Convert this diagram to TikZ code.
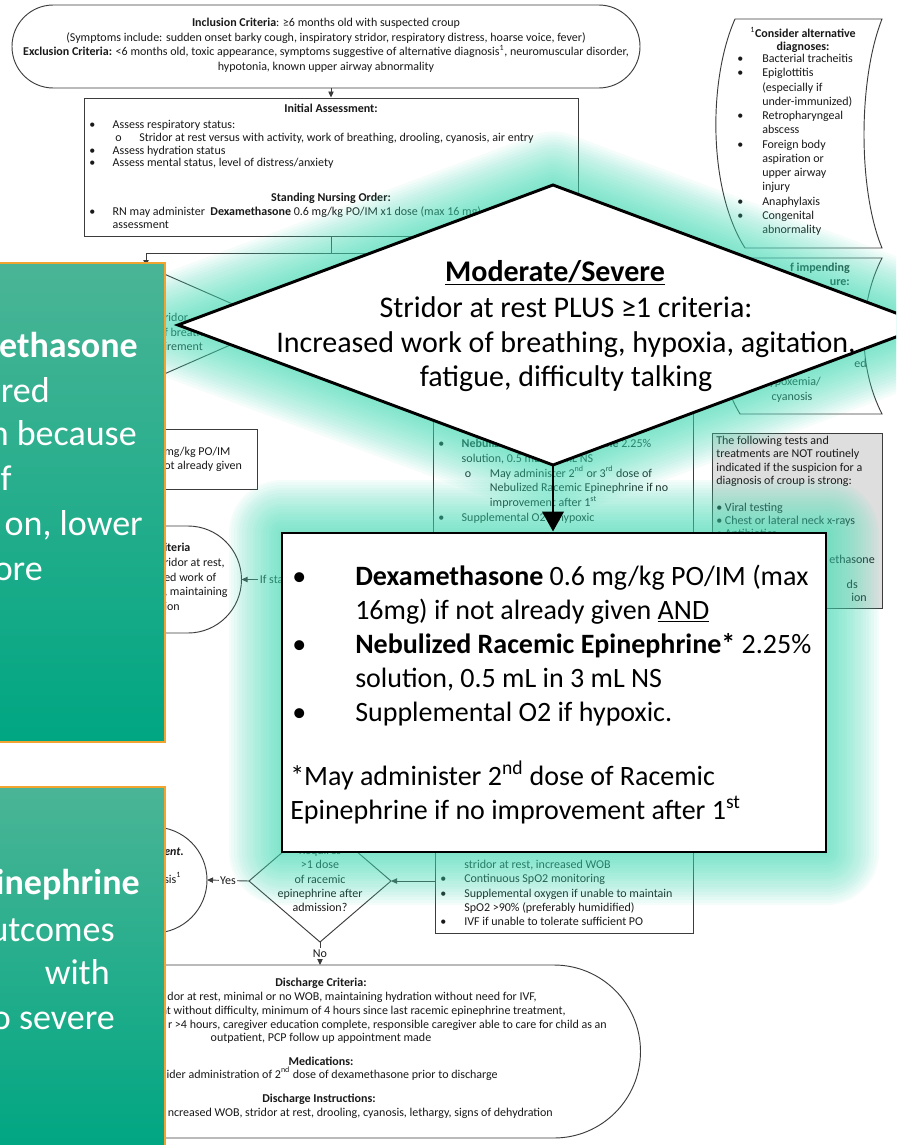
\documentclass[tikz,border=0pt]{standalone}
\usepackage{fontspec}
\setmainfont{Carlito}
\usetikzlibrary{arrows.meta,fit}

\definecolor{glowc}{RGB}{63,223,183}
\definecolor{tealtop}{RGB}{74,181,150}
\definecolor{tealbot}{RGB}{0,166,130}
\definecolor{edgeorange}{RGB}{242,164,48}
\definecolor{notegray}{RGB}{222,222,222}
\definecolor{inkgray}{RGB}{60,60,60}

\newcommand{\itemdot}[1][17.6pt]{\makebox[#1][l]{\textbullet}}

\tikzset{
  flowline/.style={draw=inkgray, line width=0.7pt},
  flowarrow/.style={flowline, -{Triangle[length=4.5pt,width=4pt]}},
  flowbox/.style={draw=inkgray, line width=0.7pt, fill=white, inner sep=0pt},
  smalltxt/.style={font=\fontsize{9}{10.7}\selectfont, inner sep=0pt, text=black!90},
  lbltxt/.style={smalltxt, fill=white, inner sep=1pt},
  dmdtxt/.style={font=\fontsize{22.5}{26}\selectfont, inner sep=0pt, anchor=base},
  boxtxt/.style={font=\fontsize{21}{25.5}\selectfont, inner sep=0pt, anchor=base west},
  tealbox/.style={top color=tealtop, bottom color=tealbot, draw=edgeorange, line width=1pt, inner sep=0pt},
  tealtxt/.style={font=\fontsize{27}{33}\selectfont, text=white, inner sep=0pt, anchor=base east},
  bigshape/.style={fill=white, draw=black, line width=2.2pt},
}

\begin{document}
\begin{tikzpicture}[x=0.75pt,y=0.75pt,yscale=-1,xscale=1]
\useasboundingbox (0,0) rectangle (896,1145);
\clip (0,0) rectangle (896,1145);
\fill[white] (0,0) rectangle (896,1145);

%Terminator: inclusion criteria
\coordinate (incl-s) at (331,88);
\draw[flowline, fill=white, rounded corners=31pt] (12,5) rectangle (640,88);
% Text Node
\node[smalltxt, align=center, anchor=north, font=\fontsize{9}{10.9}\selectfont] (incl) at (326,18) {\textbf{Inclusion Criteria}: ≥6 months old with suspected croup\\
(Symptoms include: sudden onset barky cough, inspiratory stridor, respiratory distress, hoarse voice, fever)\\
\textbf{Exclusion Criteria:} <6 months old, toxic appearance, symptoms suggestive of alternative diagnosis\textsuperscript{1}, neuromuscular disorder,\\
hypotonia, known upper airway abnormality};

%Rectangle: initial assessment
\node[flowbox, fit={(84,98) (578,236)}] (init) {};
\draw[flowarrow] (incl-s) -- (init.north);
% Text Node
\node[smalltxt, anchor=base] (init-hd) at (331,113) {\textbf{Initial Assessment:}};
\node[smalltxt, align=left, anchor=north west, font=\fontsize{9}{9.6}\selectfont] (init-list) at (89,120) {\itemdot Assess respiratory status:\\
\hspace*{19.5pt}\makebox[18pt][l]{o}Stridor at rest versus with activity, work of breathing, drooling, cyanosis, air entry\\
\itemdot Assess hydration status\\
\itemdot Assess mental status, level of distress/anxiety};
\node[smalltxt, anchor=base] (order-hd) at (331,201) {\textbf{Standing Nursing Order:}};
\node[smalltxt, align=left, anchor=north west, font=\fontsize{9}{9.75}\selectfont] (order) at (89,206) {\itemdot RN may administer \ \textbf{Dexamethasone} 0.6 mg/kg PO/IM x1 dose (max 16 mg)\\
\hspace*{17.6pt}assessment};

%Straight Lines: split to severity
\coordinate (split) at (331,253);
\coordinate (mild-n) at (146,266);
\coordinate (mild-e) at (278,324);
\coordinate (mild-s) at (146,382);
\coordinate (mild-w) at (14,324);
\node[flowbox, fit={(433,398) (693,542)}] (sevtx) {};
\draw[flowline] (init.south) -- (split);
\draw[flowarrow] (split) -| (mild-n);
\draw[flowarrow] (split) -| (sevtx.north);

%Shape: Diamond mild
\draw[flowline, fill=white] (mild-n) -- (mild-e) -- (mild-s) -- (mild-w) -- cycle;
\node[smalltxt, align=left, anchor=north west, font=\fontsize{9}{10.9}\selectfont] (mild-txt) at (164,313) {ridor\\f breathing\\irement};

%Rectangle: mild dexamethasone
\node[flowbox, fit={(30,429) (257,489)}] (mdexa) {};
\node[smalltxt, align=left, anchor=north west, font=\fontsize{9}{10.5}\selectfont] (mdexa-txt) at (164,447) {mg/kg PO/IM\\ot already given};

%Terminator: mild discharge
\coordinate (mdis-e) at (241.5,579.5);
\draw[flowline, fill=white] (20,526) -- (188,526) arc(-90:90:53.5) -- (20,633);
\node[smalltxt, align=left, anchor=north west, font=\fontsize{9}{11}\selectfont] (mdis-txt) at (164,543) {\textbf{iteria}\\ridor at rest,\\ed work of\\, maintaining\\ion};
\coordinate (ifst) at (300,579.5);
\draw[flowarrow] (ifst) -- (mdis-e);
\node[lbltxt, anchor=east] (ifst-lbl) at (285,579.5) {If sta};

%Moderate/severe treatment text
\node[smalltxt, align=left, anchor=north west, font=\fontsize{9}{11}\selectfont] (sevtx-txt) at (438,439) {\itemdot \textbf{Nebulized Racemic Epinephrine} 2.25\%\\
\hspace*{17.6pt}solution, 0.5 mL in 3 mL NS\\
\hspace*{20pt}\makebox[18.75pt][l]{o}May administer 2\textsuperscript{nd} or 3\textsuperscript{rd} dose of\\
\hspace*{38.75pt}Nebulized Racemic Epinephrine if no\\
\hspace*{38.75pt}improvement after 1\textsuperscript{st}\\
\itemdot Supplemental O2 if hypoxic};

%Shape: Wave alternative diagnoses
\draw[flowline, fill=white] (735,19) -- (882,19) .. controls (858,80) and (858,190) .. (882,248) -- (745,248) .. controls (708,190) and (708,80) .. (735,19) -- cycle;
\node[smalltxt, align=center, anchor=north, font=\fontsize{9}{9.75}\selectfont] (alt-hd) at (803,27) {\textsuperscript{1}\textbf{Consider alternative}\\\textbf{diagnoses:}};
\node[smalltxt, align=left, anchor=north west] (alt-list) at (737,54) {\itemdot[18.75pt]Bacterial tracheitis\\
\itemdot[18.75pt]Epiglottitis\\
\hspace*{18.75pt}(especially if\\
\hspace*{18.75pt}under-immunized)\\
\itemdot[18.75pt]Retropharyngeal\\
\hspace*{18.75pt}abscess\\
\itemdot[18.75pt]Foreign body\\
\hspace*{18.75pt}aspiration or\\
\hspace*{18.75pt}upper airway\\
\hspace*{18.75pt}injury\\
\itemdot[18.75pt]Anaphylaxis\\
\itemdot[18.75pt]Congenital\\
\hspace*{18.75pt}abnormality};

%Shape: Wave impending failure
\draw[flowline, fill=white] (737,258) -- (882,258) .. controls (858,305) and (858,367) .. (882,414) -- (740,414) .. controls (712,367) and (712,305) .. (737,258) -- cycle;
\node[smalltxt, anchor=base east] (imp-a) at (850,271) {\textbf{f impending}};
\node[smalltxt, anchor=base east] (imp-b) at (850,285) {\textbf{ure:}};
\node[smalltxt, anchor=base east] (imp-c) at (867,367) {ed};
\node[smalltxt, align=center, anchor=north, font=\fontsize{9}{10.9}\selectfont] (imp-d) at (792,377) {hypoxemia/\\cyanosis};

%Rectangle: not indicated
\node[flowbox, fill=notegray, fit={(712,433) (882,608)}] (notes) {};
\node[smalltxt, align=left, anchor=north west, font=\fontsize{9}{10}\selectfont] (notes-txt) at (716,436) {The following tests and\\
treatments are NOT routinely\\
indicated if the suspicion for a\\
diagnosis of croup is strong:\\[10pt]
\textbullet\ Viral testing\\
\textbullet\ Chest or lateral neck x-rays\\
\textbullet\ Antibiotics};
\node[smalltxt, anchor=base east] (notes-a) at (875,563) {ethasone};
\node[smalltxt, anchor=base east] (notes-b) at (858,588) {ds};
\node[smalltxt, anchor=base east] (notes-c) at (867,601) {ion};

%Terminator: alternative diagnosis
\coordinate (altd-e) at (207,880);
\draw[flowline, fill=white] (20,827) -- (154,827) arc(-90:90:53) -- (20,933);
\node[smalltxt, anchor=base west] (altd-a) at (164,855) {\textbf{\textit{ent.}}};
\node[smalltxt, anchor=base west] (altd-b) at (164,883) {sis\textsuperscript{1}};

%Shape: Diamond requires
\coordinate (req-n) at (320,820);
\coordinate (req-e) at (391,881);
\coordinate (req-s) at (320,942);
\coordinate (req-w) at (249,881);
\draw[flowline, fill=white] (req-n) -- (req-e) -- (req-s) -- (req-w) -- cycle;
\node[smalltxt, align=center, anchor=north] (req-txt) at (320,846) {Requires\\>1 dose\\of racemic\\epinephrine after\\admission?};
\draw[flowarrow] (req-w) -- (altd-e) node[lbltxt, midway] (yes-lbl) {Yes};

%Rectangle: inpatient care
\node[flowbox, fit={(435,835) (693,933)}] (inpat) {};
\node[smalltxt, align=left, anchor=north west] (inpat-txt) at (440,860) {\hspace*{18pt}stridor at rest, increased WOB\\
\itemdot[18pt]Continuous SpO2 monitoring\\
\itemdot[18pt]Supplemental oxygen if unable to maintain\\
\hspace*{18pt}SpO2 >90\% (preferably humidified)\\
\itemdot[18pt]IVF if unable to tolerate sufficient PO};
\draw[flowarrow] (inpat.west |- req-e) -- (req-e);

%Terminator: discharge
\coordinate (disch-n) at (320,965);
\draw[flowline, fill=white] (20,965) -- (554,965) arc(-90:90:86.5) -- (20,1138);
\draw[flowarrow] (req-s) -- (disch-n) node[lbltxt, midway] (no-lbl) {No};
\node[smalltxt, anchor=base] (dc-hd) at (321,986) {\textbf{Discharge Criteria:}};
\node[smalltxt, anchor=base east] (dc-a) at (537,1000) {dor at rest, minimal or no WOB, maintaining hydration without need for IVF,};
\node[smalltxt, anchor=base east] (dc-b) at (566,1014) {at without difficulty, minimum of 4 hours since last racemic epinephrine treatment,};
\node[smalltxt, anchor=base east] (dc-c) at (607,1028) {r >4 hours, caregiver education complete, responsible caregiver able to care for child as an};
\node[smalltxt, anchor=base] (dc-d) at (321,1041) {outpatient, PCP follow up appointment made};
\node[smalltxt, anchor=base] (med-hd) at (321,1065) {\textbf{Medications:}};
\node[smalltxt, anchor=base east] (med-a) at (498,1078) {ider administration of 2\textsuperscript{nd} dose of dexamethasone prior to discharge};
\node[smalltxt, anchor=base] (di-hd) at (319,1102) {\textbf{Discharge Instructions:}};
\node[smalltxt, anchor=base east] (di-a) at (553,1116) {ncreased WOB, stridor at rest, drooling, cyanosis, lethargy, signs of dehydration};

%Glow round the enlarged shapes
\coordinate (mod-n) at (553,185);
\coordinate (mod-e) at (928,325);
\coordinate (mod-s) at (553,465);
\coordinate (mod-w) at (178,325);
\coordinate (bb-nw) at (282,533);
\coordinate (bb-se) at (826,852);
\foreach \gw in {4,8,...,80}{
  \draw[glowc, line width=\gw pt, draw opacity=0.047, line join=round] (mod-n) -- (mod-e) -- (mod-s) -- (mod-w) -- cycle;
  \draw[glowc, line width=\gw pt, draw opacity=0.047, line join=round] (bb-nw) rectangle (bb-se);
}

%Shape: Diamond moderate/severe
\draw[bigshape] (mod-n) -- (mod-e) -- (mod-s) -- (mod-w) -- cycle;
\node[dmdtxt] (mod-a) at (555,281) {\textbf{\underline{Moderate/Severe}}};
\node[dmdtxt] (mod-b) at (566,317) {Stridor at rest PLUS ≥1 criteria:};
\node[dmdtxt] (mod-c) at (566,352) {Increased work of breathing, hypoxia, agitation,};
\node[dmdtxt] (mod-d) at (566,386) {fatigue, difficulty talking};

%Rectangle: enlarged treatment
\node[bigshape, inner sep=0pt, fit={(bb-nw) (bb-se)}] (bigbox) {};
\node[boxtxt] (bb-d1) at (292,585) {\textbullet};
\node[boxtxt] (bb-d2) at (292,653) {\textbullet};
\node[boxtxt] (bb-d3) at (292,721) {\textbullet};
\node[boxtxt] (bb-a) at (355,585) {\textbf{Dexamethasone} 0.6 mg/kg PO/IM (max};
\node[boxtxt] (bb-b) at (355,619) {16mg) if not already given \underline{AND}};
\node[boxtxt] (bb-c) at (355,653) {\textbf{Nebulized Racemic Epinephrine*} 2.25\%};
\node[boxtxt] (bb-e) at (355,687) {solution, 0.5 mL in 3 mL NS};
\node[boxtxt] (bb-f) at (355,721) {Supplemental O2 if hypoxic.};
\node[boxtxt] (bb-g) at (290,785) {*May administer 2\textsuperscript{nd} dose of Racemic};
\node[boxtxt] (bb-h) at (290,819) {Epinephrine if no improvement after 1\textsuperscript{st}};
\draw[black, line width=2.2pt, -{Triangle[length=15pt,width=16pt]}] (mod-s) -- (bigbox.north -| mod-s);

%Teal panels
\node[tealbox, fit={(-5,263) (165,742)}] (tealA) {};
\node[tealtxt] (ta-1) at (138,357) {\textbf{ethasone}};
\node[tealtxt] (ta-2) at (50,402) {rred};
\node[tealtxt] (ta-3) at (137,445) {n because};
\node[tealtxt] (ta-4) at (12,490) {f};
\node[tealtxt] (ta-5) at (143,535) {on, lower};
\node[tealtxt] (ta-6) at (43,580) {ore};
\node[tealbox, fit={(-5,787) (165,1150)}] (tealB) {};
\node[tealtxt] (tb-1) at (140,894) {\textbf{inephrine}};
\node[tealtxt] (tb-2) at (115,941) {utcomes};
\node[tealtxt] (tb-3) at (110,984) {with};
\node[tealtxt] (tb-4) at (115,1029) {o severe};

\end{tikzpicture}
\end{document}
